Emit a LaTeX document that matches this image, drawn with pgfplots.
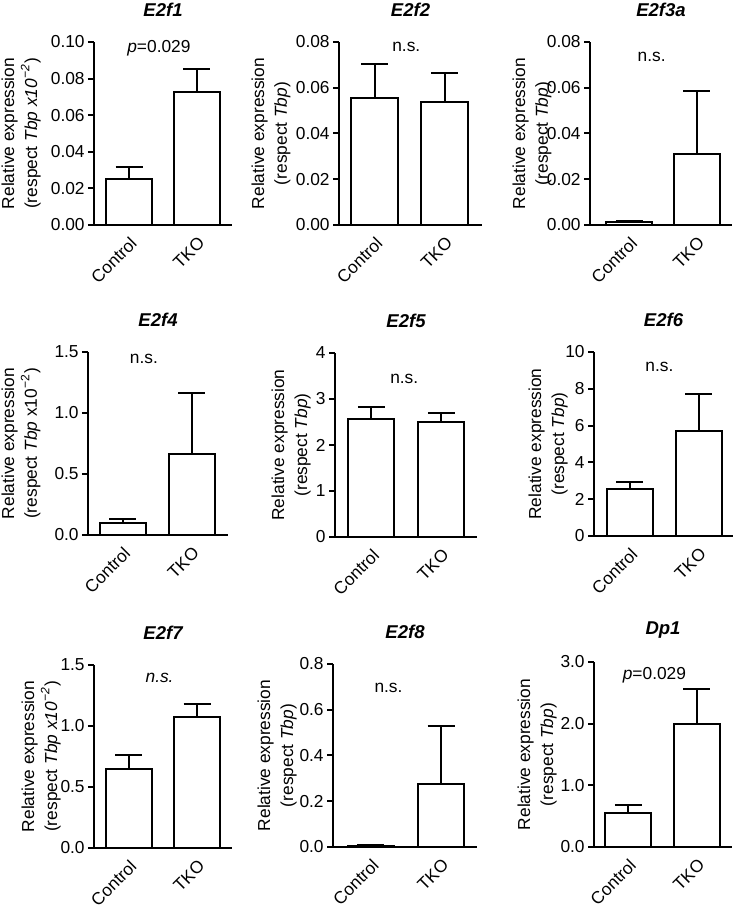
\documentclass[border=0pt]{standalone}
\usepackage{pgfplots}
\pgfplotsset{compat=1.18}
\usepackage{fontspec}
\setmainfont{Liberation Sans}
\newcommand{\tk}{\fontsize{8.7}{10.4}\selectfont}
\newcommand{\lb}{\fontsize{8.7}{11.5}\selectfont}
\pgfplotsset{
  panel/.style={
    scale only axis,
    anchor=south west,
    clip=false,
    enlargelimits=false,
    scaled y ticks=false,
    axis x line*=bottom,
    axis y line*=left,
    axis line style={-, line width=1bp, black},
    ybar, bar width=23bp,
    ymin=0,
    xtick={0,1}, xticklabels={Control,TKO},
    xtick style={draw=none},
    x tick label style={rotate=45, anchor=north east, inner sep=1.5bp, font=\tk},
    y tick label style={font=\tk, inner sep=1.5bp},
    tick align=outside,
    major tick length=3bp,
    ytick style={line width=1bp, black},
    ylabel style={align=center, font=\lb, anchor=south, inner sep=0pt},
    title style={at={(0.5,1)}, anchor=center, yshift=10bp, font=\fontsize{9.3}{11}\selectfont\bfseries\itshape},
  },
  yl/.style={ylabel style={at={(axis description cs:-#1,0.5)}}},
  barplot/.style={fill=white, draw=black, line width=1bp,
      error bars/y dir=plus, error bars/y explicit,
      error bars/error bar style={line width=1bp, black},
      error bars/error mark options={rotate=90, line width=1bp, mark size=6.75bp, black}},
}
\begin{document}
\begin{tikzpicture}
\path[use as bounding box] (0,0) rectangle (367bp,452.5bp);
% Row 1
\begin{axis}[panel, at={(47bp,340bp)}, width=69bp, height=91.5bp, yl=0.384,
  xmin=-0.515, xmax=1.515, ymax=0.10,
  ytick={0,0.02,0.04,0.06,0.08,0.10}, yticklabels={0.00,0.02,0.04,0.06,0.08,0.10},
  ylabel={Relative expression\\(respect \textit{Tbp x10\textsuperscript{−2}})},
  title={E2f1}]
\addplot[barplot] coordinates {(0,0.0250) +- (0,0.0065) (1,0.0727) +- (0,0.0123)};
\node[font=\tk] at (axis cs:0.44,0.0967) {\textit{p}=0.029};
\end{axis}
\begin{axis}[panel, at={(169.5bp,340bp)}, width=71.5bp, height=91.5bp, yl=0.336,
  xmin=-0.51, xmax=1.53, ymax=0.08, bar width=23.5bp,
  ytick={0,0.02,0.04,0.06,0.08}, yticklabels={0.00,0.02,0.04,0.06,0.08},
  ylabel={Relative expression\\(respect \textit{Tbp})},
  title={E2f2}]
\addplot[barplot] coordinates {(0,0.0557) +- (0,0.0145) (1,0.0538) +- (0,0.0128)};
\node[font=\tk] at (axis cs:0.45,0.078) {n.s.};
\end{axis}
\begin{axis}[panel, at={(295bp,340bp)}, width=71bp, height=91.5bp, yl=0.268,
  xmin=-0.583, xmax=1.52, ymax=0.08,
  ytick={0,0.02,0.04,0.06,0.08}, yticklabels={0.00,0.02,0.04,0.06,0.08},
  ylabel={Relative expression\\(respect \textit{Tbp})},
  title={E2f3a}]
\addplot[barplot] coordinates {(0,0.0012) +- (0,0.0004) (1,0.0309) +- (0,0.0278)};
\node[font=\tk] at (axis cs:0.33,0.0736) {n.s.};
\end{axis}
% Row 2
\begin{axis}[panel, at={(44bp,185bp)}, width=70bp, height=91.5bp, yl=0.336,
  xmin=-0.50, xmax=1.527, ymax=1.5,
  ytick={0,0.5,1,1.5}, yticklabels={0.0,0.5,1.0,1.5},
  ylabel={Relative expression\\(respect \textit{Tbp} x10\textsuperscript{−2})},
  title={E2f4}]
\addplot[barplot] coordinates {(0,0.101) +- (0,0.028) (1,0.665) +- (0,0.498)};
\node[font=\tk] at (axis cs:0.31,1.44) {n.s.};
\end{axis}
\begin{axis}[panel, at={(167.5bp,184bp)}, width=71bp, height=92bp, yl=0.169,
  xmin=-0.52, xmax=1.51, ymax=4,
  ytick={0,1,2,3,4}, yticklabels={0,1,2,3,4},
  ylabel={Relative expression\\(respect \textit{Tbp})},
  title={E2f5}]
\addplot[barplot] coordinates {(0,2.565) +- (0,0.26) (1,2.493) +- (0,0.21)};
\node[font=\tk] at (axis cs:0.47,3.44) {n.s.};
\end{axis}
\begin{axis}[panel, at={(297bp,184.5bp)}, width=69.5bp, height=92bp, yl=0.187,
  xmin=-0.52, xmax=1.5, ymax=10,
  ytick={0,2,4,6,8,10}, yticklabels={0,2,4,6,8,10},
  ylabel={Relative expression\\(respect \textit{Tbp})},
  title={E2f6}]
\addplot[barplot] coordinates {(0,2.53) +- (0,0.38) (1,5.71) +- (0,1.98)};
\node[font=\tk] at (axis cs:0.43,9.2) {n.s.};
\end{axis}
% Row 3
\begin{axis}[panel, at={(47bp,28.5bp)}, width=69bp, height=91.5bp, yl=0.239,
  xmin=-0.51, xmax=1.51, ymax=1.5,
  ytick={0,0.5,1,1.5}, yticklabels={0.0,0.5,1.0,1.5},
  ylabel={Relative expression\\(respect \textit{Tbp x10\textsuperscript{−2}})},
  title={E2f7}]
\addplot[barplot] coordinates {(0,0.649) +- (0,0.115) (1,1.072) +- (0,0.109)};
\node[font=\tk] at (axis cs:0.45,1.395) {\textit{n.s.}};
\end{axis}
\begin{axis}[panel, at={(166.5bp,29bp)}, width=72bp, height=91.5bp, yl=0.25,
  xmin=-0.54, xmax=1.51, ymax=0.8,
  ytick={0,0.2,0.4,0.6,0.8}, yticklabels={0.0,0.2,0.4,0.6,0.8},
  ylabel={Relative expression\\(respect \textit{Tbp})},
  title={E2f8}]
\addplot[barplot] coordinates {(0,0.005) +- (0,0.002) (1,0.275) +- (0,0.256)};
\node[font=\tk] at (axis cs:0.25,0.696) {n.s.};
\end{axis}
\begin{axis}[panel, at={(297bp,29bp)}, width=69bp, height=92.5bp, yl=0.268,
  xmin=-0.50, xmax=1.51, ymax=3,
  ytick={0,1,2,3}, yticklabels={0.0,1.0,2.0,3.0},
  ylabel={Relative expression\\(respect \textit{Tbp})},
  title={Dp1}]
\addplot[barplot] coordinates {(0,0.559) +- (0,0.114) (1,1.996) +- (0,0.57)};
\node[font=\tk] at (axis cs:0.38,2.79) {\textit{p}=0.029};
\end{axis}
\end{tikzpicture}
\end{document}
